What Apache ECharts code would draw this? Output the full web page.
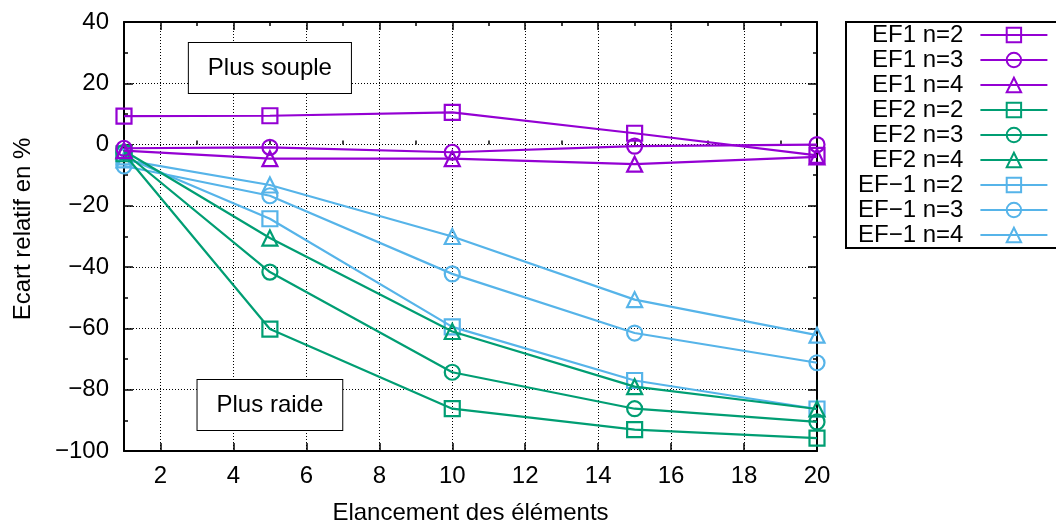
<!DOCTYPE html>
<html><head><meta charset="utf-8">
<script src="https://cdn.jsdelivr.net/npm/echarts@6/dist/echarts.min.js"></script>
<style>html,body{margin:0;padding:0;background:#fff}#c{width:1056px;height:525px}</style>
</head><body><div id="c"></div>
<script>
// ---- data ----
const xValues = [1, 5, 10, 15, 20];
const xTickLabels = [2, 4, 6, 8, 10, 12, 14, 16, 18, 20];
const xMinorTicks = [3, 5, 7, 9, 11, 13, 15, 17, 19];
const seriesNames = ['EF1 n=2', 'EF1 n=3', 'EF1 n=4', 'EF2 n=2', 'EF2 n=3', 'EF2 n=4', 'EF\u22121 n=2', 'EF\u22121 n=3', 'EF\u22121 n=4'];
const ef1_n2 = [9.3, 9.4, 10.5, 3.7, -3.5];
const ef1_n3 = [-1.2, -0.9, -2.5, -0.5, 0];
const ef1_n4 = [-2, -4.6, -4.6, -6.4, -4];
const ef2_n2 = [-3, -60.2, -86.2, -93, -95.8];
const ef2_n3 = [-2.5, -41.6, -74.3, -86.2, -90.5];
const ef2_n4 = [-2, -30.5, -61, -79, -86.3];
const efm1_n2 = [-4, -24.2, -59.5, -77, -86.3];
const efm1_n3 = [-7, -16.7, -42.2, -61.5, -71.2];
const efm1_n4 = [-5, -13.2, -30, -50.6, -62.2];
const annotSouple = { text: 'Plus souple', x: 5, y: 25 };
const annotRaide = { text: 'Plus raide', x: 5, y: -85 };

// ---- styles ----
const FONT = 'Liberation Sans';
const FS = 24;
const C1 = '#9400d3', C2 = '#009e73', C3 = '#56b4e9';
const seriesData = [ef1_n2, ef1_n3, ef1_n4, ef2_n2, ef2_n3, ef2_n4, efm1_n2, efm1_n3, efm1_n4];
const seriesColors = [C1, C1, C1, C2, C2, C2, C3, C3, C3];
const seriesSymbols = ['rect', 'circle', 'triangle', 'rect', 'circle', 'triangle', 'rect', 'circle', 'triangle'];
const minus = v => String(v).replace('-', '\u2212');

const GRID = { left: 124, right: 239, top: 22, bottom: 74, outerBoundsMode: 'none', containLabel: false };
const dotted = { color: '#000', width: 1, type: [1, 2] };

const series = seriesNames.map((name, i) => ({
  name, type: 'line',
  xAxisIndex: 0, yAxisIndex: 0,
  data: xValues.map((x, j) => [x, seriesData[i][j]]),
  symbol: seriesSymbols[i], symbolSize: 15,
  showAllSymbol: true,
  clip: false,
  lineStyle: { color: seriesColors[i], width: 2.2 },
  itemStyle: { color: 'rgba(0,0,0,0)', borderColor: seriesColors[i], borderWidth: 2.2 },
  emphasis: { disabled: true },
  z: 2 + (8 - i) * 0.01
}));

const option = {
  animation: false,
  backgroundColor: '#fff',
  textStyle: { fontFamily: FONT },
  grid: [Object.assign({}, GRID), Object.assign({}, GRID)],
  legend: {
    orient: 'vertical', left: 846, top: 22,
    align: 'right',
    itemWidth: 67, itemHeight: 18, itemGap: 1,
    padding: [1, 14, 1, 12],
    borderColor: '#000', borderWidth: 2,
    backgroundColor: '#fff',
    selectedMode: false,
    textStyle: { fontFamily: FONT, fontSize: FS, color: '#000', lineHeight: 24, padding: [0, 12, 0, 0] },
    data: seriesNames
  },
  xAxis: [
    { type: 'value', gridIndex: 0, position: 'bottom', min: 1, max: 20,
      name: 'Elancement des \u00e9l\u00e9ments', nameLocation: 'middle', nameGap: 50,
      nameTextStyle: { fontFamily: FONT, fontSize: FS, color: '#000' },
      axisLine: { show: true, onZero: false, lineStyle: { color: '#000', width: 2 } },
      axisTick: { show: true, inside: true, length: 8, customValues: xTickLabels, lineStyle: { color: '#000', width: 1.5 } },
      axisLabel: { show: true, customValues: xTickLabels, margin: 13, fontFamily: FONT, fontSize: FS, color: '#000' },
      splitLine: { show: true, lineStyle: dotted } },
    { type: 'value', gridIndex: 0, position: 'top', min: 1, max: 20,
      axisLine: { show: true, onZero: false, lineStyle: { color: '#000', width: 2 } },
      axisTick: { show: true, inside: true, length: 8, customValues: xTickLabels, lineStyle: { color: '#000', width: 1.5 } },
      axisLabel: { show: false }, splitLine: { show: false } },
    { type: 'value', gridIndex: 1, position: 'bottom', min: 1, max: 20,
      axisLine: { show: false },
      axisTick: { show: true, inside: true, length: 4, customValues: xMinorTicks, lineStyle: { color: '#000', width: 1.5 } },
      axisLabel: { show: false }, splitLine: { show: false } },
    { type: 'value', gridIndex: 1, position: 'top', min: 1, max: 20,
      axisLine: { show: false },
      axisTick: { show: true, inside: true, length: 4, customValues: xMinorTicks, lineStyle: { color: '#000', width: 1.5 } },
      axisLabel: { show: false }, splitLine: { show: false } }
  ],
  yAxis: [
    { type: 'value', gridIndex: 0, position: 'left', min: -100, max: 40, interval: 20,
      name: 'Ecart relatif en %', nameLocation: 'middle', nameGap: 89,
      nameTextStyle: { fontFamily: FONT, fontSize: FS, color: '#000', padding: [0, 0, 0, 15] },
      axisLine: { show: true, onZero: false, lineStyle: { color: '#000', width: 2 } },
      axisTick: { show: true, inside: true, length: 9, lineStyle: { color: '#000', width: 1.5 } },
      minorTick: { show: true, splitNumber: 2, length: 4, lineStyle: { color: '#000', width: 1.5 } },
      axisLabel: { show: true, margin: 15, fontFamily: FONT, fontSize: FS, color: '#000', formatter: minus },
      splitLine: { show: true, lineStyle: dotted } },
    { type: 'value', gridIndex: 0, position: 'right', min: -100, max: 40, interval: 20,
      axisLine: { show: true, onZero: false, lineStyle: { color: '#000', width: 2 } },
      axisTick: { show: true, inside: true, length: 9, lineStyle: { color: '#000', width: 1.5 } },
      minorTick: { show: true, splitNumber: 2, length: 4, lineStyle: { color: '#000', width: 1.5 } },
      axisLabel: { show: false }, splitLine: { show: false } },
    { type: 'value', gridIndex: 1, min: -100, max: 40, show: false }
  ],
  series
};

const chart = echarts.init(document.getElementById('c'), null, { renderer: 'canvas' });
chart.setOption(option);

function annot(a) {
  const p = chart.convertToPixel({ xAxisIndex: 0, yAxisIndex: 0 }, [a.x, a.y]);
  return {
    type: 'text', x: p[0], y: p[1], z: 50,
    style: {
      text: a.text, fontFamily: FONT, fontSize: FS, lineHeight: 24, fill: '#000',
      align: 'center', verticalAlign: 'middle',
      backgroundColor: '#fff', borderColor: '#000', borderWidth: 1,
      padding: [13, 19, 13, 19]
    }
  };
}
chart.setOption({ graphic: [annot(annotSouple), annot(annotRaide)] });
</script></body></html>
